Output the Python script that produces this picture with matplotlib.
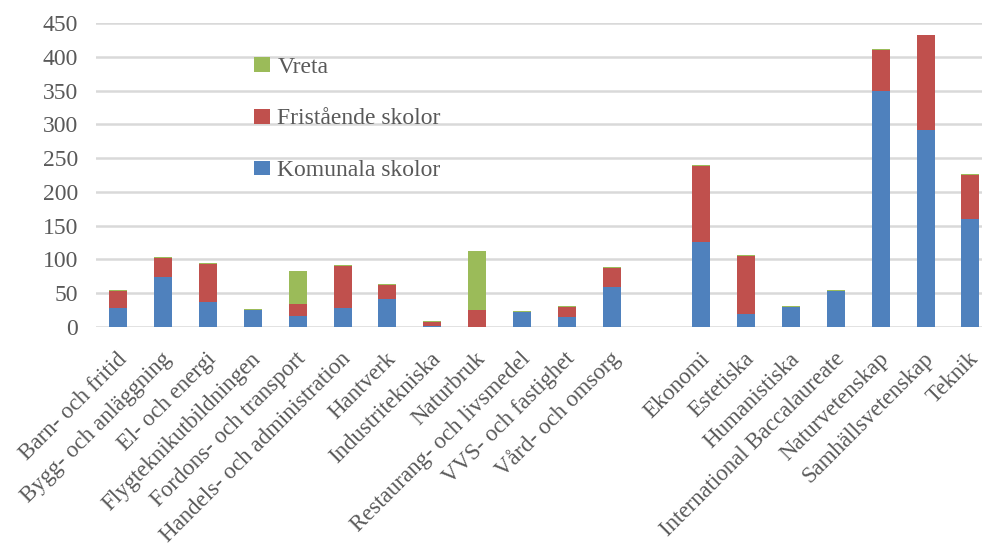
import matplotlib.pyplot as plt
import matplotlib.transforms as mtransforms
import numpy as np

plt.rcParams['font.family'] = ['Liberation Serif', 'DejaVu Serif']

# data
categories = ['Barn- och fritid', 'Bygg- och anläggning', 'El- och energi',
              'Flygteknikutbildningen', 'Fordons- och transport',
              'Handels- och administration', 'Hantverk', 'Industritekniska',
              'Naturbruk', 'Restaurang- och livsmedel', 'VVS- och fastighet',
              'Vård- och omsorg',
              'Ekonomi', 'Estetiska', 'Humanistiska', 'International Baccalaureate',
              'Naturvetenskap', 'Samhällsvetenskap', 'Teknik']
komunala = [28, 73, 37, 25, 16, 28, 41, 1, 0, 22, 14, 59,
            126, 19, 29.5, 53, 350, 292, 159]
fristaende = [25, 29, 56, 0, 17, 62, 21, 6.5, 25, 0, 15.5, 28.5,
              113, 86, 0, 0, 61, 140, 66]
vreta = [1.5, 1, 1, 1, 50, 1, 1, 1, 87, 1, 1, 1,
         1, 1, 1, 1, 1, 1, 1.5]

# vocational programmes, gap, then academic programmes
pos = np.r_[0:12, 13:20]

komunala = np.array(komunala)
fristaende = np.array(fristaende)
vreta = np.array(vreta)

fs = 17
txt = '#595959'

fig = plt.figure(figsize=(9.82, 5.5), dpi=100)
ax = fig.add_axes([96 / 982, 1 - 326.7 / 550, 886 / 982, 303.4 / 550])

w = 0.40
ax.bar(pos, komunala, w, color='#4F81BD', label='Komunala skolor', zorder=3)
ax.bar(pos, fristaende, w, bottom=komunala, color='#C0504D',
       label='Fristående skolor', zorder=3)
ax.bar(pos, vreta, w, bottom=komunala + fristaende, color='#9BBB59',
       label='Vreta', zorder=3)

ax.set_ylim(0, 450)
ax.set_yticks(range(0, 451, 50))
ax.set_xlim(-0.5, -0.5 + 886 / 44.84)
ax.yaxis.grid(True, color='#d9d9d9', linewidth=1.8, zorder=0)
for s in ax.spines.values():
    s.set_visible(False)
ax.tick_params(length=0, labelsize=fs, colors=txt, pad=13)

ax.set_xticks(pos)
ax.set_xticklabels(categories, rotation=45, ha='right', va='center',
                   rotation_mode='anchor', fontsize=16.5)
ax.tick_params(axis='x', pad=21)
shift = mtransforms.ScaledTranslation(5 / 100, 0, fig.dpi_scale_trans)
for lbl in ax.get_xticklabels():
    lbl.set_transform(lbl.get_transform() + shift)

h, l = ax.get_legend_handles_labels()
ax.legend(h[::-1], l[::-1], loc='upper left', bbox_to_anchor=(242 / 982, 1 - 45 / 550),
          bbox_transform=fig.transFigure, frameon=False, fontsize=fs,
          handlelength=0.7, handleheight=0.58, handletextpad=0.3,
          labelspacing=1.3, borderpad=0, labelcolor=txt)

fig.savefig('out.png', dpi=100, facecolor='white')
plt.close()
